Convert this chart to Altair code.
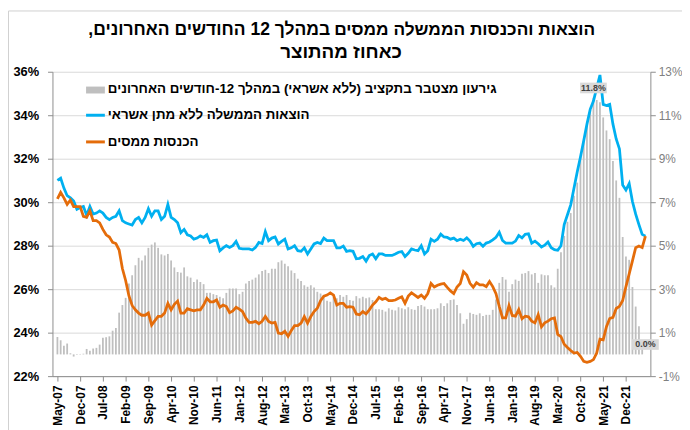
import altair as alt
import pandas as pd

# ---------------- data (monthly, May-07 .. Jun-22) ----------------
TICK_LABELS = ["May-07", "Dec-07", "Jul-08", "Feb-09", "Sep-09", "Apr-10", "Nov-10",
               "Jun-11", "Jan-12", "Aug-12", "Mar-13", "Oct-13", "May-14", "Dec-14",
               "Jul-15", "Feb-16", "Sep-16", "Apr-17", "Nov-17", "Jun-18", "Jan-19",
               "Aug-19", "Mar-20", "Oct-20", "May-21", "Dec-21"]
TICK_STEP = 7

# government expenditure excl. credit, % of GDP (left axis)
EXPENDITURE = [
    31.0, 31.1, 30.65, 30.3, 30.2, 30.05, 29.67, 29.75, 29.8, 29.4,
    29.8, 29.45, 29.5, 29.6, 29.5, 29.3, 29.2, 29.3, 29.35, 29.6,
    29.15, 29.05, 29.0, 28.95, 29.2, 29.3, 29.05, 29.3, 29.7, 29.35,
    29.6, 29.6, 29.2, 29.35, 29.9, 29.3, 29.2, 29.05, 28.6, 28.75,
    28.5, 28.45, 28.3, 28.35,
    28.45, 28.38, 28.5, 28.15, 28.23, 28.26, 27.77, 27.9, 28.0, 27.92,
    28.0, 28.2, 27.88, 27.85, 27.85, 27.85, 27.8, 27.92, 28.15, 28.1,
    28.65, 28.23, 28.35, 28.4, 28.08, 28.2, 28.3, 27.85, 27.9, 28.0,
    27.77, 27.74, 27.9, 27.62, 27.85, 28.08, 28.15, 28.1, 28.35, 28.23,
    28.23, 28.23, 27.9, 27.9, 27.98, 27.74,
    27.77, 27.74, 27.4, 27.42, 27.5, 27.29, 27.55, 27.62, 27.4, 27.62,
    27.62, 27.55, 27.55, 27.55, 27.62, 27.7, 27.73, 27.5, 27.65, 27.85,
    27.8, 27.77, 28.0, 27.62, 27.77, 28.3, 28.2, 28.3, 28.53, 28.4,
    28.38, 28.3, 28.35, 28.23, 28.3,
    28.24, 28.36, 28.21, 27.97, 28.09, 28.12, 27.97, 28.12, 28.17, 28.27,
    28.39, 28.62, 28.24, 28.12, 28.12, 28.12, 28.21, 28.47, 28.36, 28.52,
    28.55, 28.12, 28.21, 28.09, 27.94, 28.02, 28.17, 27.91, 27.82, 27.79,
    28.0,
    28.97, 29.42, 29.88, 30.64, 31.39, 32.08, 32.83, 33.59, 34.27, 34.65,
    35.26, 35.85, 34.5, 34.45, 34.5, 33.59, 32.91, 32.45, 30.79, 30.56,
    30.86, 30.03, 29.45, 28.97, 28.52, 28.44,
]

# tax revenue, % of GDP (left axis)
TAX = [
    30.15, 30.45, 30.2, 29.9, 30.1, 29.8, 29.8, 29.8, 29.35, 29.3,
    29.6, 29.15, 29.15, 29.05, 28.75, 28.5, 28.4, 28.15, 28.1, 27.8,
    26.95, 26.4, 25.7, 25.25, 25.05, 24.9, 24.8, 24.8, 24.9, 24.35,
    24.55, 24.75, 24.75, 24.9, 25.35, 25.05, 25.3, 25.45, 24.9, 24.9,
    25.1, 25.05, 25.0, 25.05,
    25.05, 25.27, 25.58, 25.42, 25.42, 25.5, 25.17, 25.27, 25.2, 24.92,
    25.0, 25.17, 25.08, 24.97, 24.67, 24.47, 24.47, 24.52, 24.41, 24.52,
    24.74, 24.52, 24.44, 24.47, 23.98, 23.95, 24.06, 23.83, 24.1, 24.32,
    24.32, 24.44, 24.74, 24.44, 24.74, 24.97, 25.12, 25.47, 25.68, 25.73,
    25.83, 25.73, 25.27, 25.35, 25.35, 25.17,
    25.2, 25.17, 24.86, 24.82, 24.97, 24.86, 25.05, 25.27, 25.42, 25.62,
    25.53, 25.58, 25.47, 25.47, 25.5, 25.58, 25.65, 25.35, 25.68, 25.83,
    25.73, 25.62, 25.73, 25.58, 25.8, 26.26, 26.1, 26.18, 26.23, 26.26,
    26.08, 25.92, 25.8, 26.1, 26.26,
    26.8, 26.65, 26.27, 26.09, 26.3, 26.2, 26.2, 26.12, 26.35, 26.12,
    25.79, 25.21, 24.68, 24.68, 25.24, 24.79, 24.76, 25.06, 24.64, 24.76,
    24.73, 24.53, 24.45, 24.83, 24.27, 24.45, 24.53, 24.64, 24.68, 23.92,
    23.82,
    23.47, 23.32, 23.18, 23.06, 23.09, 22.91, 22.68, 22.64, 22.68, 22.76,
    23.06, 23.7, 23.67, 24.27, 24.65, 24.7, 25.11, 25.21, 25.48, 26.12,
    26.7, 27.3, 27.91, 27.98, 27.91, 28.44,
]

# 12-month cumulative budget deficit (excl. credit), % of GDP (right axis)
DEFICIT = [
    0.8, 0.65, 0.4, 0.5, 0.05, -0.1, 0.02, 0.02, 0.03, 0.25,
    0.17, 0.27, 0.3, 0.45, 0.76, 0.79, 0.83, 1.09, 1.21, 1.92,
    2.27, 2.6, 3.26, 3.64, 4.1, 4.44, 4.32, 4.55, 4.9, 5.05,
    5.15, 4.9, 4.6, 4.55, 4.62, 4.32, 4.0, 3.79, 3.76, 4.0,
    3.59, 3.53, 3.33,
    3.44, 3.33, 3.23, 2.83, 2.83, 2.77, 2.73, 2.65, 2.58, 2.83,
    3.03, 3.03, 3.03, 2.77, 2.88, 3.26, 3.38, 3.44, 3.53, 3.68,
    3.83, 3.89, 3.74, 3.94, 3.94, 4.24, 4.32, 4.17, 4.05, 3.86,
    3.74, 3.48, 3.38, 3.18, 3.11, 3.18, 3.08, 2.88, 2.8, 2.73,
    2.47, 2.42, 2.65, 2.58, 2.73, 2.65, 2.73,
    2.5, 2.47, 2.68, 2.58, 2.65, 2.58, 2.62, 2.5, 2.08, 2.08,
    2.05, 1.97, 2.12, 2.05, 2.02, 2.17, 2.12, 2.08, 2.17, 2.08,
    2.05, 2.23, 2.27, 2.2, 2.08, 2.08, 2.08, 2.12, 2.35, 2.23,
    2.35, 2.5, 2.53, 2.27, 1.89,
    1.41, 1.62, 1.92, 1.86, 1.82, 1.89, 1.77, 1.82, 1.82, 2.05,
    2.53, 3.29, 3.56, 3.44, 2.88, 3.23, 3.44, 3.38, 3.71, 3.74,
    3.83, 3.68, 3.74, 3.29, 3.68, 3.64, 3.64, 3.18, 3.08, 3.94,
    4.7, 5.45, 6.1,
    6.5, 7.3, 7.9, 9.1, 9.8, 10.5, 11.2, 11.8, 11.7, 11.6,
    10.9, 10.3, 9.9, 8.9, 8.0, 7.2, 5.4, 4.5, 4.35, 3.1,
    2.2, 1.3, 0.6, 0.0,
]

RLM = "\u200f"
TITLE_MAIN = "הוצאות והכנסות הממשלה ממסים"
TITLE_SUB = "במהלך 12 החודשים האחרונים,"
TITLE_LINE2 = "כאחוז מהתוצר"
LEGEND_LABELS = [
    "גירעון מצטבר בתקציב (ללא אשראי) במהלך 12-חודשים האחרונים",
    "הוצאות הממשלה ללא מתן אשראי",
    "הכנסות ממסים",
]

# ---------------- styling ----------------
FONT = "Liberation Sans"
BLUE = "#00b0f0"
ORANGE = "#e46c0a"
BAR_GREY = "#bfbfbf"
AXIS_GREY = "#8c8c8c"
GRID_GREY = "#d9d9d9"
W, H = 605, 308

n = len(EXPENDITURE)
months = list(range(n))
df_bar = pd.DataFrame({"m": months, "deficit": DEFICIT})
df_lines = pd.concat([
    pd.DataFrame({"m": months, "v": EXPENDITURE, "s": "exp"}),
    pd.DataFrame({"m": months, "v": TAX, "s": "tax"}),
], ignore_index=True)

ann_idx = [int(df_bar["deficit"].idxmax()), n - 1]
df_ann = df_bar.iloc[ann_idx].copy()
df_ann["label"] = df_ann["deficit"].map(lambda v: f"{v:.1f}%")

x_scale = alt.Scale(domain=[0, n - 1], nice=False, zero=False)
label_expr = "[" + ",".join(f"'{t}'" for t in TICK_LABELS) + "][round(datum.value/%d)]" % TICK_STEP
x_axis = alt.Axis(values=[i * TICK_STEP for i in range(len(TICK_LABELS))],
                  labelExpr=label_expr, labelAngle=-90, labelFont=FONT,
                  labelFontSize=12, labelFontWeight="bold", labelColor="#000000",
                  tickSize=5, tickColor=AXIS_GREY, domainColor=AXIS_GREY,
                  grid=False, title=None, labelPadding=4)
X = alt.X("m:Q", scale=x_scale, axis=x_axis)

right_scale = alt.Scale(domain=[-1, 13], nice=False, zero=False)
left_scale = alt.Scale(domain=[22, 36], nice=False, zero=False)

bars = alt.Chart(df_bar).mark_bar(size=1.8, color=BAR_GREY).encode(
    x=X,
    y=alt.Y("deficit:Q", scale=right_scale,
            axis=alt.Axis(orient="right", values=list(range(-1, 14, 2)),
                          labelExpr="datum.value + '%'", labelFont=FONT,
                          labelFontSize=12, labelColor="#808080", grid=False,
                          tickSize=5, tickColor=AXIS_GREY, domainColor=AXIS_GREY,
                          labelPadding=3, title=None)),
)

lines = alt.Chart(df_lines).mark_line(strokeWidth=2.8).encode(
    x=X,
    y=alt.Y("v:Q", scale=left_scale,
            axis=alt.Axis(orient="left", values=list(range(22, 37, 2)),
                          labelExpr="datum.value + '%'", labelFont=FONT,
                          labelFontSize=13, labelFontWeight="bold", labelColor="#000000",
                          grid=True, gridColor=GRID_GREY, gridWidth=1,
                          tickSize=5, tickColor=AXIS_GREY, domainColor=AXIS_GREY,
                          labelPadding=9, title=None)),
    color=alt.Color("s:N", scale=alt.Scale(domain=["exp", "tax"], range=[BLUE, ORANGE]),
                    legend=None),
)

box_path = "M-1,-0.4H1V0.4H-1Z"
ann_box = alt.Chart(df_ann).mark_point(shape=box_path, filled=True, size=729,
                                       color="#d9d9d9", opacity=1, yOffset=-10).encode(
    x=X,
    y=alt.Y("deficit:Q", scale=right_scale, axis=None),
)
ann_text = alt.Chart(df_ann).mark_text(font=FONT, fontSize=9, fontWeight="bold",
                                       color="#404040", dy=-10).encode(
    x=X,
    y=alt.Y("deficit:Q", scale=right_scale, axis=None),
    text="label:N",
)

def txt(s, x, y, size, align, weight="bold", baseline="alphabetic", color="#000000"):
    return alt.Chart(pd.DataFrame({"t": [RLM + s + RLM]})).mark_text(
        font=FONT, fontSize=size, fontWeight=weight, align=align,
        baseline=baseline, color=color).encode(
        text="t:N", x=alt.value(x), y=alt.value(y))

title1a = txt(TITLE_MAIN, 285, -37, 17.5, "left")
title1b = txt(TITLE_SUB, 281, -37, 17.7, "right")
title2 = txt(TITLE_LINE2, 292, -14, 19, "center")

one = pd.DataFrame({"k": [0]})
leg_rect = alt.Chart(one).mark_rect(color=BAR_GREY).encode(
    x=alt.value(34), x2=alt.value(53), y=alt.value(15), y2=alt.value(22))
leg_blue = alt.Chart(one).mark_rule(color=BLUE, strokeWidth=3).encode(
    x=alt.value(34), x2=alt.value(53), y=alt.value(44))
leg_orange = alt.Chart(one).mark_rule(color=ORANGE, strokeWidth=3).encode(
    x=alt.value(34), x2=alt.value(53), y=alt.value(71))
leg_t1 = txt(LEGEND_LABELS[0], 56, 18, 13.5, "left", baseline="middle")
leg_t2 = txt(LEGEND_LABELS[1], 56, 44, 13.5, "left", baseline="middle")
leg_t3 = txt(LEGEND_LABELS[2], 56, 71, 13.5, "left", baseline="middle")

frame = alt.Chart(one).mark_rect(fill=None, stroke="#d0d0d0", strokeWidth=1).encode(
    x=alt.value(-44.5), x2=alt.value(700), y=alt.value(-61.5), y2=alt.value(400))

chart = alt.layer(
    bars, lines, ann_box, ann_text,
    title1a, title1b, title2,
    leg_rect, leg_blue, leg_orange, leg_t1, leg_t2, leg_t3, frame,
).resolve_scale(y="independent").properties(
    width=W, height=H,
    autosize=alt.AutoSizeParams(type="none"),
    padding={"left": 45, "top": 62, "right": 32, "bottom": 52},
    background="#ffffff",
).configure_view(stroke=None)

chart.save("out.html", embed_options={"renderer": "svg", "actions": False})
